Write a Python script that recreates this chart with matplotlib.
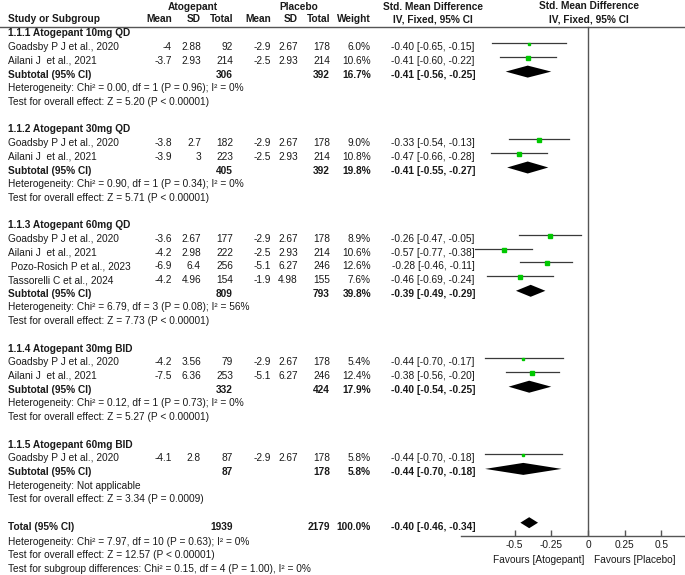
import numpy as np
import matplotlib
matplotlib.use("Agg")
import matplotlib.pyplot as plt
from matplotlib.patches import Polygon

plt.rcParams['font.family'] = ['Liberation Sans', 'DejaVu Sans']

# ---- data ----
group_names = ["1.1.1 Atogepant 10mg QD", "1.1.2 Atogepant 30mg QD", "1.1.3 Atogepant 60mg QD",
               "1.1.4 Atogepant 30mg BID", "1.1.5 Atogepant 60mg BID"]

study_names = ["Goadsby P J et al., 2020", "Ailani J  et al., 2021",
               "Goadsby P J et al., 2020", "Ailani J  et al., 2021",
               "Goadsby P J et al., 2020", "Ailani J  et al., 2021",
               " Pozo-Rosich P et al., 2023", "Tassorelli C et al., 2024",
               "Goadsby P J et al., 2020", "Ailani J  et al., 2021",
               "Goadsby P J et al., 2020"]
study_group = [0, 0, 1, 1, 2, 2, 2, 2, 3, 3, 4]

ato_mean = [-4, -3.7, -3.8, -3.9, -3.6, -4.2, -6.9, -4.2, -4.2, -7.5, -4.1]
ato_sd = [2.88, 2.93, 2.7, 3, 2.67, 2.98, 6.4, 4.96, 3.56, 6.36, 2.8]
ato_n = [92, 214, 182, 223, 177, 222, 256, 154, 79, 253, 87]
pla_mean = [-2.9, -2.5, -2.9, -2.5, -2.9, -2.5, -5.1, -1.9, -2.9, -5.1, -2.9]
pla_sd = [2.67, 2.93, 2.67, 2.93, 2.67, 2.93, 6.27, 4.98, 2.67, 6.27, 2.67]
pla_n = [178, 214, 178, 214, 178, 214, 246, 155, 178, 246, 178]
study_weight = [6.0, 10.6, 9.0, 10.8, 8.9, 10.6, 12.6, 7.6, 5.4, 12.4, 5.8]
study_smd = [-0.40, -0.41, -0.33, -0.47, -0.26, -0.57, -0.28, -0.46, -0.44, -0.38, -0.44]
study_lo = [-0.65, -0.60, -0.54, -0.66, -0.47, -0.77, -0.46, -0.69, -0.70, -0.56, -0.70]
study_hi = [-0.15, -0.22, -0.13, -0.28, -0.05, -0.38, -0.11, -0.24, -0.17, -0.20, -0.18]

sub_ato_n = [306, 405, 809, 332, 87]
sub_pla_n = [392, 392, 793, 424, 178]
sub_weight = [16.7, 19.8, 39.8, 17.9, 5.8]
sub_smd = [-0.41, -0.41, -0.39, -0.40, -0.44]
sub_lo = [-0.56, -0.55, -0.49, -0.54, -0.70]
sub_hi = [-0.25, -0.27, -0.29, -0.25, -0.18]
sub_het = ["Heterogeneity: Chi² = 0.00, df = 1 (P = 0.96); I² = 0%",
           "Heterogeneity: Chi² = 0.90, df = 1 (P = 0.34); I² = 0%",
           "Heterogeneity: Chi² = 6.79, df = 3 (P = 0.08); I² = 56%",
           "Heterogeneity: Chi² = 0.12, df = 1 (P = 0.73); I² = 0%",
           "Heterogeneity: Not applicable"]
sub_z = ["Test for overall effect: Z = 5.20 (P < 0.00001)",
         "Test for overall effect: Z = 5.71 (P < 0.00001)",
         "Test for overall effect: Z = 7.73 (P < 0.00001)",
         "Test for overall effect: Z = 5.27 (P < 0.00001)",
         "Test for overall effect: Z = 3.34 (P = 0.0009)"]

total_ato_n = 1939
total_pla_n = 2179
total_weight = 100.0
total_smd, total_lo, total_hi = -0.40, -0.46, -0.34
total_notes = ["Heterogeneity: Chi² = 7.97, df = 10 (P = 0.63); I² = 0%",
               "Test for overall effect: Z = 12.57 (P < 0.00001)",
               "Test for subgroup differences: Chi² = 0.15, df = 4 (P = 1.00), I² = 0%"]

x_ticks = [-0.5, -0.25, 0, 0.25, 0.5]
x_tick_labels = ["-0.5", "-0.25", "0", "0.25", "0.5"]

# ---- layout (pixel coordinates) ----
W, H = 685, 575
FS = 7.3
TXT = '#1a1a1a'
col_name = 8
col_am, col_asd, col_an = 172, 201, 233
col_pm, col_psd, col_pn = 271, 298, 330
col_w = 371
col_ci = 433
row0, pitch = 33.5, 13.7
plot_left, axis_y = 461, 536
x_min, x_max = -0.864, 0.660


def row_y(i):
    return row0 + i * pitch


def ci_text(m, lo, hi):
    return f"{m:.2f} [{lo:.2f}, {hi:.2f}]"


fig = plt.figure(figsize=(W / 100, H / 100), dpi=100)
ax = fig.add_axes([0, 0, 1, 1])
ax.set_xlim(0, W)
ax.set_ylim(H, 0)
ax.axis('off')

fa = fig.add_axes([plot_left / W, (H - axis_y) / H, (W - plot_left) / W, axis_y / H])
fa.set_xlim(x_min, x_max)
fa.set_ylim(axis_y, 0)
fa.patch.set_alpha(0)
for s in ['top', 'left', 'right']:
    fa.spines[s].set_visible(False)
fa.spines['bottom'].set_color('#555555')
fa.spines['bottom'].set_linewidth(1.0)
fa.set_yticks([])
fa.set_xticks(x_ticks)
fa.set_xticklabels(x_tick_labels, fontsize=FS, color=TXT)
fa.tick_params(axis='x', direction='in', length=4, width=1, color='#555555', pad=3)

# headers
hb = dict(fontsize=FS, color=TXT, fontweight='bold', va='center')
ax.text(193, 7, "Atogepant", ha='center', **hb)
ax.text(299, 7, "Placebo", ha='center', **hb)
ax.text(433, 7, "Std. Mean Difference", ha='center', **hb)
ax.text(589, 6, "Std. Mean Difference", ha='center', **hb)
ax.text(col_name, 19.5, "Study or Subgroup", ha='left', **hb)
for x, lab in [(col_am, "Mean"), (col_asd, "SD"), (col_an, "Total"), (col_pm, "Mean"),
               (col_psd, "SD"), (col_pn, "Total"), (col_w, "Weight")]:
    ax.text(x, 19.5, lab, ha='right', **hb)
ax.text(433, 19.5, "IV, Fixed, 95% CI", ha='center', **hb)
ax.text(589, 19, "IV, Fixed, 95% CI", ha='center', **hb)
ax.plot([0, W], [26.5, 26.5], color='#555555', lw=1)

# zero line
fa.plot([0, 0], [26.5, axis_y], color='#555555', lw=1)

norm = dict(fontsize=FS, color=TXT, va='center')
bold = dict(fontsize=FS, color=TXT, va='center', fontweight='bold')


def diamond(m, lo, hi, y, h=6.0):
    xs = [lo, m, hi, m]
    ys = [y, y - h, y, y + h]
    fa.add_patch(Polygon(np.column_stack([xs, ys]), closed=True, color='black', lw=0))


r = 0
for g, gname in enumerate(group_names):
    ax.text(col_name, row_y(r), gname, ha='left', **bold)
    r += 1
    for i in range(len(study_names)):
        if study_group[i] != g:
            continue
        y = row_y(r)
        ax.text(col_name, y, study_names[i], ha='left', **norm)
        for x, v in [(col_am, ato_mean[i]), (col_asd, ato_sd[i]), (col_an, ato_n[i]),
                     (col_pm, pla_mean[i]), (col_psd, pla_sd[i]), (col_pn, pla_n[i])]:
            ax.text(x, y, f"{v:g}", ha='right', **norm)
        ax.text(col_w, y, f"{study_weight[i]:.1f}%", ha='right', **norm)
        ax.text(col_ci, y, ci_text(study_smd[i], study_lo[i], study_hi[i]), ha='center', **norm)
        # confidence interval and weighted square
        yl = y - 4
        fa.plot([study_lo[i], study_hi[i]], [yl, yl], color='#3a3a3a', lw=0.9)
        ms = (1.8 + study_weight[i] * 0.17) / 1.389
        fa.plot(study_smd[i], yl + 1, marker='s', ms=ms, color='#00c800', mec='#00c800', lw=0)
        r += 1
    y = row_y(r)
    ax.text(col_name, y, "Subtotal (95% CI)", ha='left', **bold)
    ax.text(col_an, y, f"{sub_ato_n[g]}", ha='right', **bold)
    ax.text(col_pn, y, f"{sub_pla_n[g]}", ha='right', **bold)
    ax.text(col_w, y, f"{sub_weight[g]:.1f}%", ha='right', **bold)
    ax.text(col_ci, y, ci_text(sub_smd[g], sub_lo[g], sub_hi[g]), ha='center', **bold)
    diamond(sub_smd[g], sub_lo[g], sub_hi[g], y - 3)
    r += 1
    ax.text(col_name, row_y(r), sub_het[g], ha='left', **norm)
    r += 1
    ax.text(col_name, row_y(r), sub_z[g], ha='left', **norm)
    r += 2

# overall total
y = row_y(r)
ax.text(col_name, y, "Total (95% CI)", ha='left', **bold)
ax.text(col_an, y, f"{total_ato_n}", ha='right', **bold)
ax.text(col_pn, y, f"{total_pla_n}", ha='right', **bold)
ax.text(col_w, y, f"{total_weight:.1f}%", ha='right', **bold)
ax.text(col_ci, y, ci_text(total_smd, total_lo, total_hi), ha='center', **bold)
diamond(total_smd, total_lo, total_hi, y - 4, h=5.5)
for k, note in enumerate(total_notes):
    ax.text(col_name, y + 15 + k * 13.6, note, ha='left', **norm)

ax.text(584, 560, "Favours [Atogepant]", ha='right', **norm)
ax.text(594, 560, "Favours [Placebo]", ha='left', **norm)

fig.savefig("out.png", dpi=100)
